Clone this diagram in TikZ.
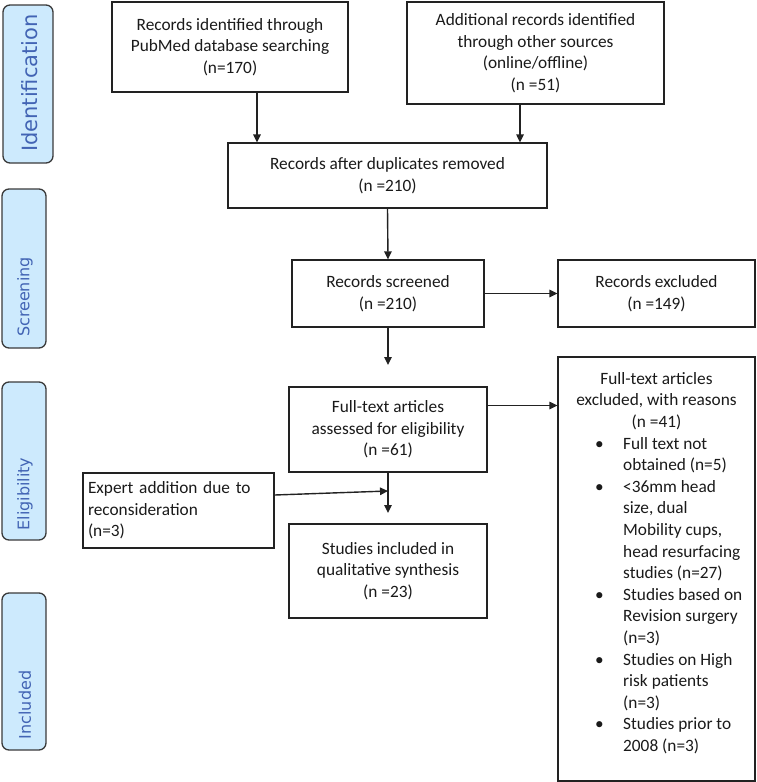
\documentclass[tikz,border=0pt]{standalone}
\usepackage{fontspec}
\setmainfont{Carlito}
\newfontfamily\labelfont{DejaVu Sans}
\usetikzlibrary{arrows.meta}
\definecolor{lblfill}{HTML}{CDEAFD}
\definecolor{lbltext}{HTML}{4264B4}
\definecolor{lbledge}{HTML}{3A3A3A}
\definecolor{boxedge}{HTML}{222222}
\definecolor{txt}{HTML}{1A1A1A}
\newcommand\mfont{\fontsize{17.3}{21.5}\selectfont}
\begin{document}
\begin{tikzpicture}[x=1pt,y=-1pt,
 box/.style={draw=boxedge, line width=1.3pt, fill=white, inner sep=0pt, align=center, font=\mfont, text=txt},
 phase/.style={draw=lbledge, line width=1.3pt, fill=lblfill, rounded corners=7pt, inner sep=0pt},
 phasetext/.style={rotate=90, text=lbltext, font=\labelfont\fontsize{16}{19}\selectfont, inner sep=0pt},
 arr/.style={draw=boxedge, line width=1.4pt, -{Triangle[length=8pt,width=7.5pt]}}]
\useasboundingbox (0,0) rectangle (757,782);

% phase labels
\node[phase, minimum width=50pt, minimum height=158pt] (idb) at (28,84) {};
\node[phasetext, font=\labelfont\fontsize{21}{24}\selectfont] (idt) at (30,83) {Identification};
\node[phase, minimum width=44pt, minimum height=159pt] (scb) at (24,268.5) {};
\node[phasetext] (sct) at (25,297) {Screening};
\node[phase, minimum width=44pt, minimum height=158pt] (elb) at (24,461) {};
\node[phasetext] (elt) at (25,494) {Eligibility};
\node[phase, minimum width=44pt, minimum height=157pt] (inb) at (24,671.5) {};
\node[phasetext] (int) at (25,705) {Included};

% main boxes
\node[box, minimum width=236pt, minimum height=90pt] (pub) at (230,47)
  {Records identified through\\PubMed database searching\\(n=170)};
\node[box, minimum width=257pt, minimum height=102pt] (add) at (535.5,53)
  {Additional records identified\\through other sources\\(online/offline)\\(n =51)};
\node[box, minimum width=319pt, minimum height=65pt] (dup) at (387.5,175.5)
  {Records after duplicates removed\\(n =210)};
\node[box, minimum width=192pt, minimum height=67pt] (scr) at (388,293.5)
  {Records screened\\(n =210)};
\node[box, minimum width=197pt, minimum height=67pt] (exc) at (656.5,293.5)
  {Records excluded\\(n =149)};
\node[box, minimum width=198pt, minimum height=85pt] (ass) at (388,429.5)
  {Full-text articles\\assessed for eligibility\\(n =61)};
\node[box, minimum width=198pt, minimum height=94pt] (inc) at (388,571)
  {Studies included in\\qualitative synthesis\\(n =23)};
\node[box, minimum height=75pt, text width=181pt, inner xsep=5pt, align=left] (exp) at (178.5,510.5)
  {Expert addition due to\\reconsideration\\(n=3)};
\node[box, minimum width=197pt, minimum height=424pt] (fte) at (656.5,569) {};
\node[inner sep=0pt, align=center, font=\fontsize{17.3}{21.6}\selectfont, text=txt] (fteh) at (656.5,401)
  {Full-text articles\\excluded, with reasons\\(n =41)};
\node[inner sep=0pt, align=left, font=\fontsize{17.3}{21.6}\selectfont, text=txt, anchor=west] (ftel) at (595,595.5)
  {\makebox[28pt][l]{\textbullet}Full text not\\
   \hspace*{28pt}obtained (n=5)\\
   \makebox[28pt][l]{\textbullet}<36mm head\\
   \hspace*{28pt}size, dual\\
   \hspace*{28pt}Mobility cups,\\
   \hspace*{28pt}head resurfacing\\
   \hspace*{28pt}studies (n=27)\\
   \makebox[28pt][l]{\textbullet}Studies based on\\
   \hspace*{28pt}Revision surgery\\
   \hspace*{28pt}(n=3)\\
   \makebox[28pt][l]{\textbullet}Studies on High\\
   \hspace*{28pt}risk patients\\
   \hspace*{28pt}(n=3)\\
   \makebox[28pt][l]{\textbullet}Studies prior to\\
   \hspace*{28pt}2008 (n=3)};

% connectors
\draw[arr] ([xshift=27pt]pub.south) -- ([xshift=27pt]pub.south |- dup.north);
\draw[arr] ([xshift=-15.5pt]add.south) -- ([xshift=-15.5pt]add.south |- dup.north);
\draw[arr] (dup.south) -- (scr.north);
\draw[arr] (scr.east) -- (exc.west);
\coordinate (g1) at (388,365);
\draw[arr] (scr.south) -- (g1);
\draw[arr] ([yshift=24pt]ass.east) -- ([yshift=24pt]ass.east -| fte.west);
\coordinate (g2) at (388,513);
\draw[arr] (ass.south) -- (g2);
\coordinate (join) at (388,491);
\draw[arr] ([yshift=15.5pt]exp.east) -- (join);
\end{tikzpicture}
\end{document}
